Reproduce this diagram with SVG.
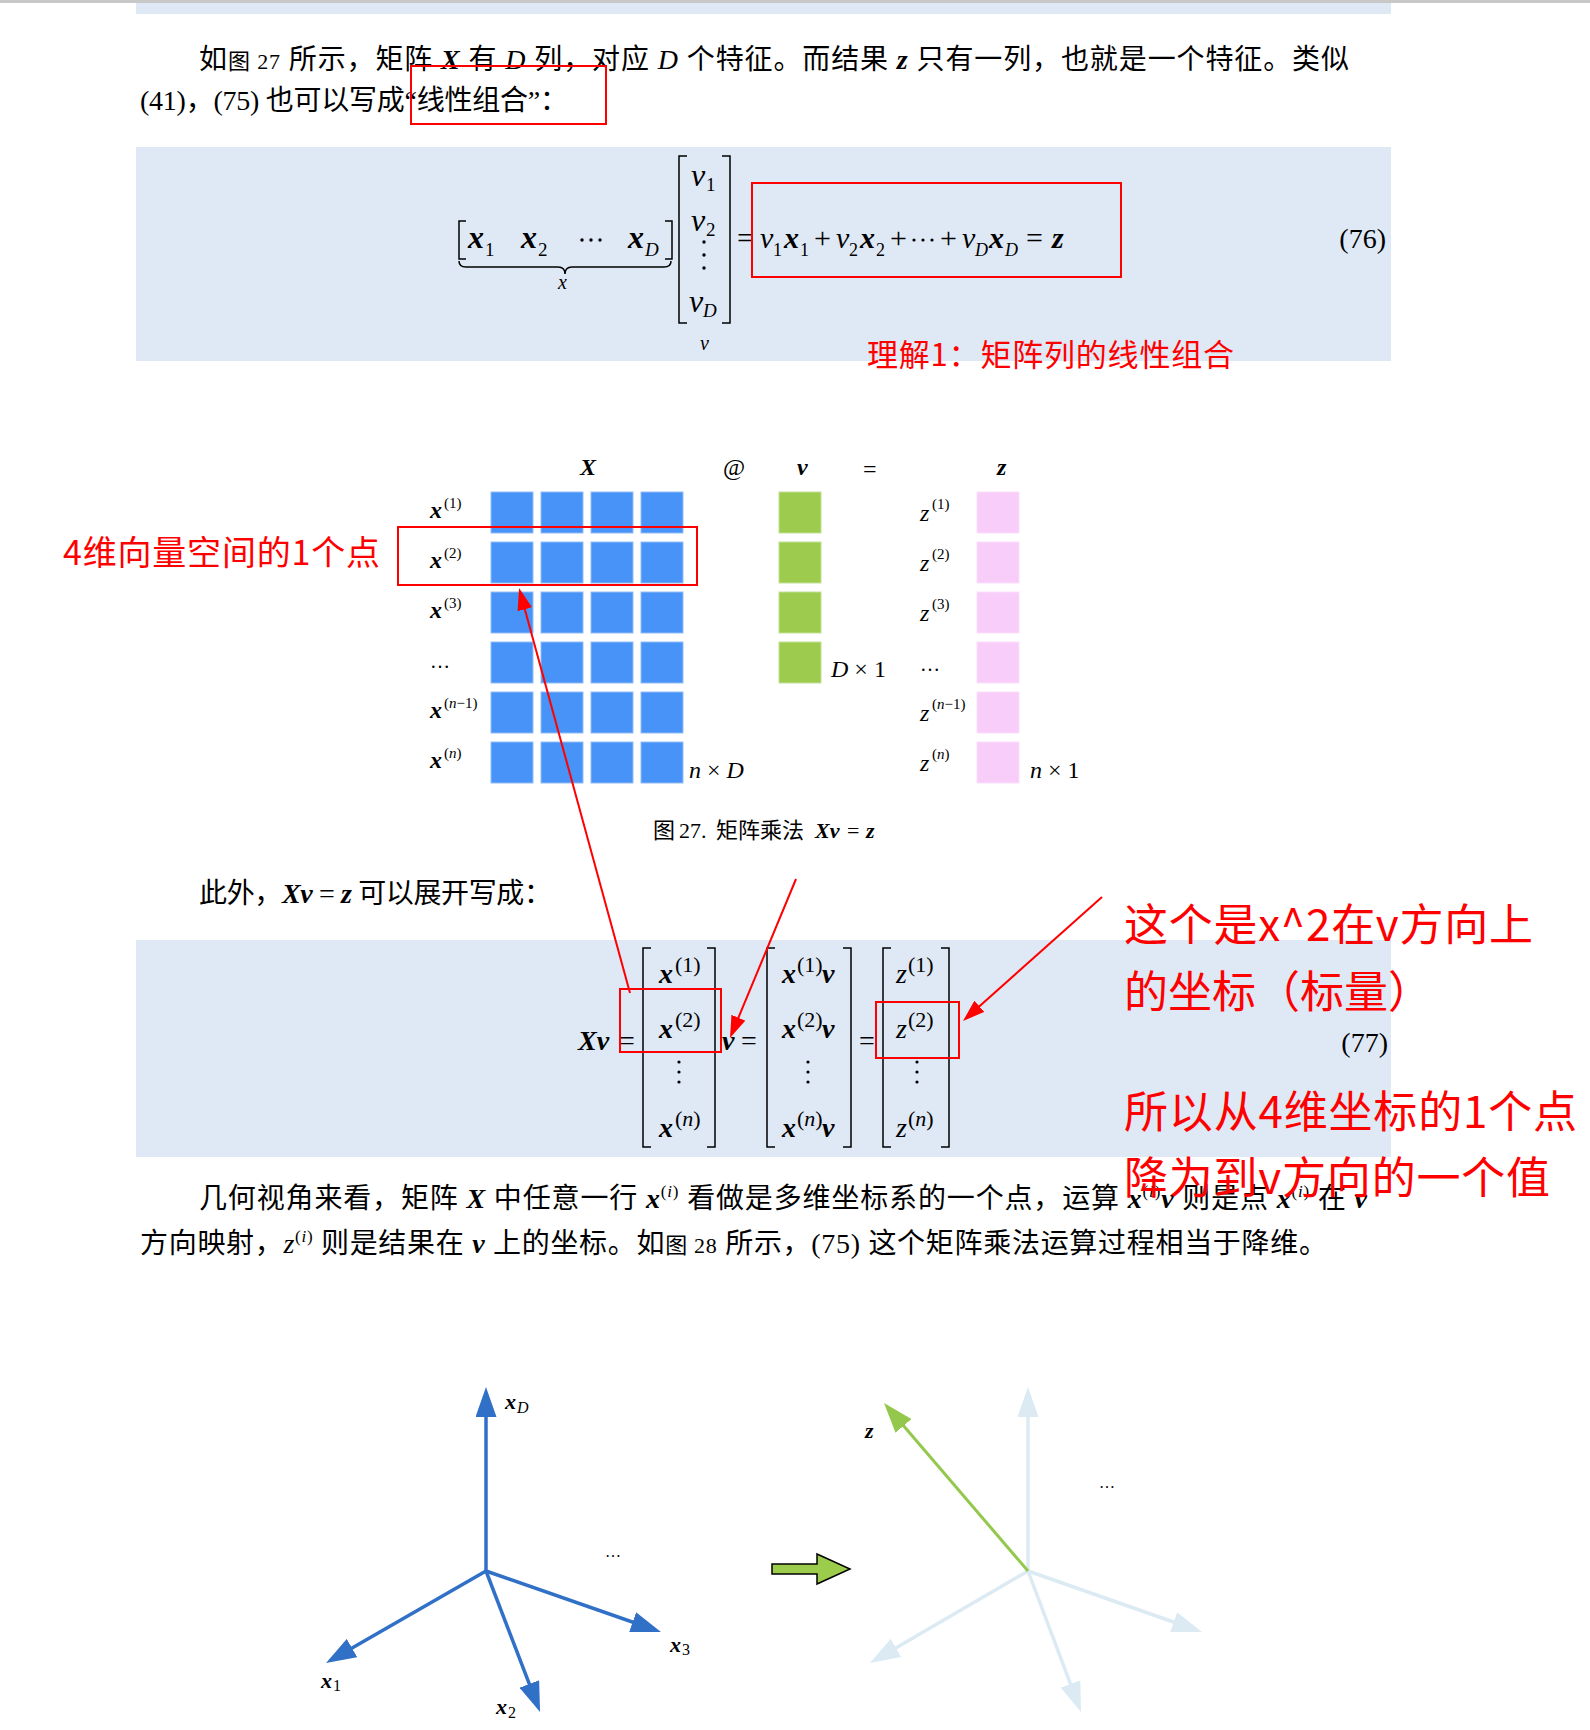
<svg xmlns="http://www.w3.org/2000/svg" width="1590" height="1730" viewBox="0 0 1590 1730">
<style>
.cj{font-family:"Liberation Serif","Noto Sans CJK SC",serif;font-size:28px;fill:#000}
.cap{font-family:"Liberation Serif","Noto Sans CJK SC",serif;font-size:22px;fill:#000}
.m{font-family:"Liberation Serif","DejaVu Serif",serif;fill:#000}
.bi{font-weight:bold;font-style:italic}
.i{font-style:italic}
.red{font-family:"Noto Sans CJK SC","Noto Sans",sans-serif;fill:#ff0000}
.band{fill:#dfe8f5}
.brk{fill:none;stroke:#000;stroke-width:1.5}
.rbox{fill:none;stroke:#ff0000;stroke-width:2}
.bl{fill:#4793f8;stroke:#93bdf5;stroke-width:1}
.gr{fill:#9dcb4d;stroke:#c4e196;stroke-width:1}
.pk{fill:#f9cdf9;stroke:#fbe0fb;stroke-width:1}
.rarrow{stroke:#ff0000;stroke-width:2;fill:none;marker-end:url(#ah-red)}
.ax{stroke:#3170c7;stroke-width:3.5;fill:none;marker-end:url(#ah-blue)}
.axl{stroke:#dbeaf3;stroke-width:3.5;fill:none;marker-end:url(#ah-light)}
</style>
<defs>
<marker id="ah-red" markerUnits="userSpaceOnUse" markerWidth="22" markerHeight="15" refX="18" refY="7.5" orient="auto"><path d="M0,0 L22,7.5 L0,15 z" fill="#ff0000"/></marker>
<marker id="ah-blue" markerUnits="userSpaceOnUse" markerWidth="30" markerHeight="21" refX="24" refY="10.5" orient="auto"><path d="M0,0 L30,10.5 L0,21 z" fill="#3170c7"/></marker>
<marker id="ah-light" markerUnits="userSpaceOnUse" markerWidth="30" markerHeight="21" refX="24" refY="10.5" orient="auto"><path d="M0,0 L30,10.5 L0,21 z" fill="#dbeaf3"/></marker>
<marker id="ah-green" markerUnits="userSpaceOnUse" markerWidth="30" markerHeight="21" refX="24" refY="10.5" orient="auto"><path d="M0,0 L30,10.5 L0,21 z" fill="#93c84c"/></marker>
</defs>
<rect x="0" y="0" width="1590" height="1730" fill="#ffffff"/>
<rect x="0" y="0" width="1590" height="3" fill="#c8c8c8"/>
<rect class="band" x="136" y="3" width="1255" height="11"/>

<g id="para1">
<text class="cj" x="199" y="69" textLength="1150" lengthAdjust="spacing">如<tspan font-size="22">图 27</tspan> 所示，矩阵 <tspan class="bi">X</tspan> 有 <tspan class="i">D</tspan> 列，对应 <tspan class="i">D</tspan> 个特征。而结果 <tspan class="bi">z</tspan> 只有一列，也就是一个特征。类似</text>
<text class="cj" x="140" y="110" textLength="428" lengthAdjust="spacing">(41)，(75) 也可以写成“线性组合”：</text>
</g>
<rect id="redbox1" class="rbox" x="411" y="66" width="195" height="58"/>

<g id="eq76">
<rect class="band" x="136" y="147" width="1255" height="214"/>
<g class="m">
<path class="brk" d="M466,221 H459 V259 H466"/>
<path class="brk" d="M665,221 H672 V259 H665"/>
<text x="468" y="248" font-size="32" class="bi">x</text><text x="485" y="256" font-size="19">1</text>
<text x="521" y="248" font-size="32" class="bi">x</text><text x="538" y="256" font-size="19">2</text>
<circle cx="582" cy="240" r="1.7"/><circle cx="591" cy="240" r="1.7"/><circle cx="600" cy="240" r="1.7"/>
<text x="628" y="248" font-size="32" class="bi">x</text><text x="645" y="256" font-size="19" class="i">D</text>
<path class="brk" d="M459,261 Q459,267 466,267 H558 Q565,267 565,274 Q565,267 572,267 H664 Q671,267 671,261"/>
<text x="558" y="289" font-size="20" class="i">x</text>
<path class="brk" d="M687,156 H679 V323 H687"/>
<path class="brk" d="M722,156 H730 V323 H722"/>
<text x="691" y="186" font-size="32" class="i">v</text><text x="706" y="191" font-size="19">1</text>
<text x="691" y="231" font-size="32" class="i">v</text><text x="706" y="236" font-size="19">2</text>
<circle cx="704" cy="242" r="1.7"/><circle cx="704" cy="255" r="1.7"/><circle cx="704" cy="268" r="1.7"/>
<text x="689" y="312" font-size="32" class="i">v</text><text x="703" y="317" font-size="19" class="i">D</text>
<text x="700" y="350" font-size="20" class="i">v</text>
<text x="737" y="248" font-size="30">=</text>
<text x="760" y="248" font-size="30" class="i">v</text><text x="773" y="256" font-size="18">1</text>
<text x="784" y="248" font-size="30" class="bi">x</text><text x="800" y="256" font-size="18">1</text>
<text x="814" y="248" font-size="30">+</text>
<text x="836" y="248" font-size="30" class="i">v</text><text x="849" y="256" font-size="18">2</text>
<text x="860" y="248" font-size="30" class="bi">x</text><text x="876" y="256" font-size="18">2</text>
<text x="890" y="248" font-size="30">+</text>
<circle cx="914" cy="240" r="1.6"/><circle cx="923" cy="240" r="1.6"/><circle cx="932" cy="240" r="1.6"/>
<text x="940" y="248" font-size="30">+</text>
<text x="962" y="248" font-size="30" class="i">v</text><text x="975" y="256" font-size="18" class="i">D</text>
<text x="989" y="248" font-size="30" class="bi">x</text><text x="1005" y="256" font-size="18" class="i">D</text>
<text x="1026" y="248" font-size="30">=</text>
<text x="1052" y="248" font-size="30" class="bi">z</text>
<text x="1386" y="248" font-size="28" text-anchor="end">(76)</text>
</g>
</g>
<rect id="redbox2" class="rbox" x="752" y="183" width="369" height="94"/>
<text id="note1" class="red" x="867" y="366" font-size="31" textLength="367" lengthAdjust="spacing">理解1：矩阵列的线性组合</text>

<g id="fig27">
<g class="m" font-size="24">
<text x="580" y="475" class="bi">X</text>
<text x="723" y="475">@</text>
<text x="797" y="475" class="bi">v</text>
<text x="863" y="477">=</text>
<text x="997" y="475" class="bi">z</text>
</g>
<g id="matX">
<rect class="bl" x="491" y="492" width="42" height="41"/><rect class="bl" x="541" y="492" width="42" height="41"/><rect class="bl" x="591" y="492" width="42" height="41"/><rect class="bl" x="641" y="492" width="42" height="41"/>
<rect class="bl" x="491" y="542" width="42" height="41"/><rect class="bl" x="541" y="542" width="42" height="41"/><rect class="bl" x="591" y="542" width="42" height="41"/><rect class="bl" x="641" y="542" width="42" height="41"/>
<rect class="bl" x="491" y="592" width="42" height="41"/><rect class="bl" x="541" y="592" width="42" height="41"/><rect class="bl" x="591" y="592" width="42" height="41"/><rect class="bl" x="641" y="592" width="42" height="41"/>
<rect class="bl" x="491" y="642" width="42" height="41"/><rect class="bl" x="541" y="642" width="42" height="41"/><rect class="bl" x="591" y="642" width="42" height="41"/><rect class="bl" x="641" y="642" width="42" height="41"/>
<rect class="bl" x="491" y="692" width="42" height="41"/><rect class="bl" x="541" y="692" width="42" height="41"/><rect class="bl" x="591" y="692" width="42" height="41"/><rect class="bl" x="641" y="692" width="42" height="41"/>
<rect class="bl" x="491" y="742" width="42" height="41"/><rect class="bl" x="541" y="742" width="42" height="41"/><rect class="bl" x="591" y="742" width="42" height="41"/><rect class="bl" x="641" y="742" width="42" height="41"/>
</g>
<g id="vecV">
<rect class="gr" x="779" y="492" width="42" height="41"/>
<rect class="gr" x="779" y="542" width="42" height="41"/>
<rect class="gr" x="779" y="592" width="42" height="41"/>
<rect class="gr" x="779" y="642" width="42" height="41"/>
</g>
<g id="vecZ">
<rect class="pk" x="977" y="492" width="42" height="41"/>
<rect class="pk" x="977" y="542" width="42" height="41"/>
<rect class="pk" x="977" y="592" width="42" height="41"/>
<rect class="pk" x="977" y="642" width="42" height="41"/>
<rect class="pk" x="977" y="692" width="42" height="41"/>
<rect class="pk" x="977" y="742" width="42" height="41"/>
</g>
<g class="m" font-size="24">
<text x="430" y="518" class="bi">x</text><text x="444" y="508" font-size="15">(1)</text>
<text x="430" y="568" class="bi">x</text><text x="444" y="558" font-size="15">(2)</text>
<text x="430" y="618" class="bi">x</text><text x="444" y="608" font-size="15">(3)</text>
<text x="430" y="668" font-size="20">…</text>
<text x="430" y="718" class="bi">x</text><text x="444" y="708" font-size="15">(<tspan class="i">n</tspan>−1)</text>
<text x="430" y="768" class="bi">x</text><text x="444" y="758" font-size="15">(<tspan class="i">n</tspan>)</text>
<text x="920" y="521" class="i">z</text><text x="932" y="509" font-size="15">(1)</text>
<text x="920" y="571" class="i">z</text><text x="932" y="559" font-size="15">(2)</text>
<text x="920" y="621" class="i">z</text><text x="932" y="609" font-size="15">(3)</text>
<text x="920" y="671" font-size="20">…</text>
<text x="920" y="721" class="i">z</text><text x="932" y="709" font-size="15">(<tspan class="i">n</tspan>−1)</text>
<text x="920" y="771" class="i">z</text><text x="932" y="759" font-size="15">(<tspan class="i">n</tspan>)</text>
<text x="831" y="677"><tspan class="i">D</tspan> × 1</text>
<text x="689" y="778"><tspan class="i">n</tspan> × <tspan class="i">D</tspan></text>
<text x="1030" y="778"><tspan class="i">n</tspan> × 1</text>
</g>
<g id="caption27">
<text class="cap" x="653" y="838">图</text>
<text class="cap" x="679" y="838">27.</text>
<text class="cap" x="716" y="838">矩阵乘法</text>
<text class="cap" x="815" y="838"><tspan class="bi">Xv</tspan></text>
<text class="cap" x="847" y="838">=</text>
<text class="cap" x="866" y="838"><tspan class="bi">z</tspan></text>
</g>
</g>
<rect id="redbox3" class="rbox" x="398" y="527" width="299" height="58"/>
<text id="note2" class="red" x="63" y="565" font-size="34" textLength="317" lengthAdjust="spacing">4维向量空间的1个点</text>

<g id="para2">
<text class="cj" x="199" y="903" textLength="353" lengthAdjust="spacing">此外，<tspan class="bi">Xv</tspan> = <tspan class="bi">z</tspan> 可以展开写成：</text>
</g>

<g id="eq77">
<rect class="band" x="136" y="940" width="1255" height="217"/>
<g class="m" font-size="28">
<text x="578" y="1050" class="bi">Xv</text>
<text x="619" y="1050">=</text>
<path class="brk" d="M651,948 H643 V1147 H651"/>
<path class="brk" d="M707,948 H715 V1147 H707"/>
<text x="659" y="983" class="bi">x</text><text x="675" y="972" font-size="22">(1)</text>
<text x="659" y="1038" class="bi">x</text><text x="675" y="1027" font-size="22">(2)</text>
<circle cx="679" cy="1062" r="1.6"/><circle cx="679" cy="1072" r="1.6"/><circle cx="679" cy="1082" r="1.6"/>
<text x="659" y="1137" class="bi">x</text><text x="675" y="1126" font-size="22">(<tspan class="i">n</tspan>)</text>
<text x="722" y="1050" class="bi">v</text>
<text x="741" y="1050">=</text>
<path class="brk" d="M775,948 H767 V1147 H775"/>
<path class="brk" d="M843,948 H851 V1147 H843"/>
<text x="782" y="983" class="bi">x</text><text x="797" y="972" font-size="22">(1)</text><text x="822" y="983" class="bi">v</text>
<text x="782" y="1038" class="bi">x</text><text x="797" y="1027" font-size="22">(2)</text><text x="822" y="1038" class="bi">v</text>
<circle cx="808" cy="1062" r="1.6"/><circle cx="808" cy="1072" r="1.6"/><circle cx="808" cy="1082" r="1.6"/>
<text x="782" y="1137" class="bi">x</text><text x="797" y="1126" font-size="22">(<tspan class="i">n</tspan>)</text><text x="822" y="1137" class="bi">v</text>
<text x="859" y="1050">=</text>
<path class="brk" d="M891,948 H883 V1147 H891"/>
<path class="brk" d="M941,948 H949 V1147 H941"/>
<text x="896" y="983" class="i">z</text><text x="908" y="972" font-size="22">(1)</text>
<text x="896" y="1038" class="i">z</text><text x="908" y="1027" font-size="22">(2)</text>
<circle cx="917" cy="1062" r="1.6"/><circle cx="917" cy="1072" r="1.6"/><circle cx="917" cy="1082" r="1.6"/>
<text x="896" y="1137" class="i">z</text><text x="908" y="1126" font-size="22">(<tspan class="i">n</tspan>)</text>
<text x="1388" y="1052" text-anchor="end">(77)</text>
</g>
</g>
<rect id="redbox4" class="rbox" x="620" y="989" width="101" height="63"/>
<rect id="redbox5" class="rbox" x="876" y="1002" width="83" height="56"/>

<g id="para3">
<text class="cj" x="199" y="1208" textLength="1168" lengthAdjust="spacing">几何视角来看，矩阵 <tspan class="bi">X</tspan> 中任意一行 <tspan class="bi">x</tspan><tspan font-size="17" dy="-11">(<tspan class="i">i</tspan>)</tspan><tspan dy="11"> 看做是多维坐标系的一个点，运算 </tspan><tspan class="bi">x</tspan><tspan font-size="17" dy="-11">(<tspan class="i">i</tspan>)</tspan><tspan class="bi" dy="11">v</tspan> 则是点 <tspan class="bi">x</tspan><tspan font-size="17" dy="-11">(<tspan class="i">i</tspan>)</tspan><tspan dy="11"> 在 </tspan><tspan class="bi">v</tspan></text>
<text class="cj" x="140" y="1253" textLength="1187" lengthAdjust="spacing">方向映射，<tspan class="i">z</tspan><tspan font-size="17" dy="-11">(<tspan class="i">i</tspan>)</tspan><tspan dy="11"> 则是结果在 </tspan><tspan class="bi">v</tspan> 上的坐标。如<tspan font-size="22">图 28</tspan> 所示，(75) 这个矩阵乘法运算过程相当于降维。</text>
</g>

<g id="note3" class="red" font-size="44">
<text x="1124" y="941" textLength="409" lengthAdjust="spacing">这个是x^2在v方向上</text>
<text x="1124" y="1008">的坐标（标量）</text>
<text x="1124" y="1128" textLength="453" lengthAdjust="spacing">所以从4维坐标的1个点</text>
<text x="1124" y="1194" textLength="426" lengthAdjust="spacing">降为到v方向的一个值</text>
</g>

<g id="connectors">
<line class="rarrow" x1="630" y1="993" x2="520.1" y2="591.9"/>
<line class="rarrow" x1="796" y1="879" x2="731.5" y2="1034.3"/>
<line class="rarrow" x1="1102" y1="897" x2="966" y2="1018.3"/>
</g>

<g id="fig28-left">
<line class="ax" x1="486" y1="1571" x2="486" y2="1393"/>
<line class="ax" x1="486" y1="1571" x2="331.2" y2="1660"/>
<line class="ax" x1="486" y1="1571" x2="537.9" y2="1706.4"/>
<line class="ax" x1="486" y1="1571" x2="655.3" y2="1630"/>
<g class="m" font-size="22">
<text x="505" y="1409" class="bi">x</text><text x="517" y="1413" font-size="16" class="i">D</text>
<text x="321" y="1688" class="bi">x</text><text x="333" y="1691" font-size="16">1</text>
<text x="496" y="1714" class="bi">x</text><text x="508" y="1718" font-size="16">2</text>
<text x="670" y="1652" class="bi">x</text><text x="682" y="1655" font-size="16">3</text>
<text x="605" y="1557" font-size="16">…</text>
</g>
</g>

<g id="fig28-arrow">
<polygon points="772,1564 817,1564 817,1554 850,1569 817,1584 817,1574 772,1574" fill="#9ccc4c" stroke="#000" stroke-width="1.5"/>
</g>

<g id="fig28-right">
<line class="axl" x1="1028" y1="1571" x2="1028" y2="1393"/>
<line class="axl" x1="1028" y1="1571" x2="875.2" y2="1660"/>
<line class="axl" x1="1028" y1="1571" x2="1078.9" y2="1706.4"/>
<line class="axl" x1="1028" y1="1571" x2="1196.3" y2="1630"/>
<line x1="1028" y1="1571" x2="887.9" y2="1407.6" stroke="#93c84c" stroke-width="3" marker-end="url(#ah-green)"/>
<g class="m" font-size="22">
<text x="865" y="1438" class="bi">z</text>
<text x="1099" y="1488" font-size="16">…</text>
</g>
</g>
</svg>
